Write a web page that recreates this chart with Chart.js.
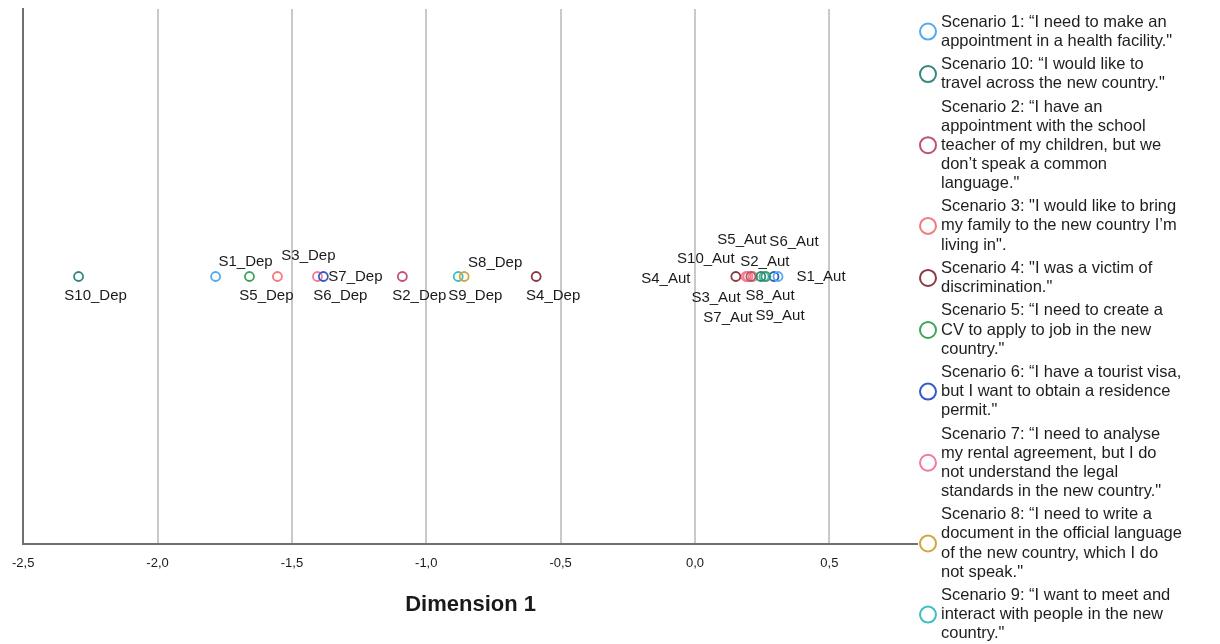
<!DOCTYPE html>
<html>
<head>
<meta charset="utf-8">
<script src="https://cdn.jsdelivr.net/npm/chart.js@4.4.1/dist/chart.umd.min.js"></script>
<style>
  html, body { margin: 0; padding: 0; background: #fff; }
  #wrap { width: 1220px; height: 644px; position: relative; }
</style>
</head>
<body>
<div id="wrap"><canvas id="grafico"></canvas></div>
<script>
// escenarios en el orden de la leyenda
const escenarios = ['S1', 'S10', 'S2', 'S3', 'S4', 'S5', 'S6', 'S7', 'S8', 'S9'];
const valoresDep = [-1.784, -2.294, -1.089, -1.554, -0.591, -1.658, -1.383, -1.405, -0.859, -0.881];
const valoresAut = [0.309, 0.245, 0.208, 0.190, 0.152, 0.264, 0.294, 0.197, 0.216, 0.257];
const colores = ['#52aaf0', '#35867e', '#c04f7c', '#f4787c', '#8a3a44', '#3ea45a', '#3558c4', '#f07aa0', '#d2a63c', '#3cc0c0'];
const ticksX = [-2.5, -2.0, -1.5, -1.0, -0.5, 0.0, 0.5];
const textosLeyenda = [
  'Scenario 1: \u201cI need to make an\nappointment in a health facility."',
  'Scenario 10: \u201cI would like to\ntravel across the new country."',
  'Scenario 2: \u201cI have an\nappointment with the school\nteacher of my children, but we\ndon\u2019t speak a common\nlanguage."',
  'Scenario 3: "I would like to bring\nmy family to the new country I\u2019m\nliving in".',
  'Scenario 4: "I was a victim of\ndiscrimination."',
  'Scenario 5: \u201cI need to create a\nCV to apply to job in the new\ncountry."',
  'Scenario 6: \u201cI have a tourist visa,\nbut I want to obtain a residence\npermit."',
  'Scenario 7: \u201cI need to analyse\nmy rental agreement, but I do\nnot understand the legal\nstandards in the new country."',
  'Scenario 8: \u201cI need to write a\ndocument in the official language\nof the new country, which I do\nnot speak."',
  'Scenario 9: \u201cI want to meet and\ninteract with people in the new\ncountry."'
];

// desplazamiento de cada etiqueta respecto a su punto (por defecto abajo a la derecha)
const desplazamientos = {
  S1_Dep: [30, -15], S3_Dep: [31, -21], S7_Dep: [38, 0], S8_Dep: [31, -14],
  S4_Aut: [-70, 2], S3_Aut: [-30, 21], S7_Aut: [-20, 41], S2_Aut: [14, -15],
  S10_Aut: [-55, -18], S9_Aut: [16, 39], S5_Aut: [-24, -37], S6_Aut: [20, -35],
  S1_Aut: [43, 0]
};

const fuente = '"Liberation Sans", Arial, sans-serif';

const datasets = escenarios.map((s, i) => ({
  label: s,
  data: [{ x: valoresDep[i], y: 0 }, { x: valoresAut[i], y: 0 }],
  borderColor: colores[i],
  backgroundColor: 'rgba(0,0,0,0)',
  pointRadius: 4.5,
  pointBorderWidth: 1.8,
  showLine: false
}));

const etiquetasPuntos = {
  id: 'etiquetasPuntos',
  afterDatasetsDraw(chart) {
    const ctx = chart.ctx;
    ctx.save();
    ctx.font = '15px ' + fuente;
    ctx.fillStyle = '#1a1a1a';
    ctx.textAlign = 'center';
    ctx.textBaseline = 'middle';
    chart.data.datasets.forEach((ds, i) => {
      const meta = chart.getDatasetMeta(i);
      meta.data.forEach((p, j) => {
        const nombre = escenarios[i] + (j === 0 ? '_Dep' : '_Aut');
        const d = desplazamientos[nombre] || [17, 19];
        ctx.fillText(nombre, p.x + d[0], p.y + d[1]);
      });
    });
    ctx.restore();
  }
};

const leyenda = {
  id: 'leyendaEscenarios',
  afterDraw(chart) {
    const ctx = chart.ctx;
    const x0 = chart.chartArea.right;
    ctx.save();
    ctx.fillStyle = '#fff';
    ctx.fillRect(x0, 0, chart.width - x0, chart.height);
    ctx.font = '16.5px ' + fuente;
    ctx.textAlign = 'left';
    ctx.textBaseline = 'middle';
    const alto = 19.1, hueco = 23.4;
    let y = 22;
    textosLeyenda.forEach((t, i) => {
      const lineas = t.split('\n');
      const yCentro = y + (lineas.length - 1) * alto / 2;
      ctx.beginPath();
      ctx.arc(928, yCentro, 8, 0, Math.PI * 2);
      ctx.strokeStyle = colores[i];
      ctx.lineWidth = 2;
      ctx.stroke();
      ctx.fillStyle = '#1e1e1e';
      lineas.forEach((l, k) => ctx.fillText(l, 941, y + k * alto));
      y += (lineas.length - 1) * alto + hueco;
    });
    ctx.restore();
  }
};

new Chart(document.getElementById('grafico'), {
  type: 'scatter',
  data: { datasets },
  options: {
    responsive: true,
    maintainAspectRatio: false,
    animation: false,
    layout: { padding: { top: 9, left: 22, right: 302, bottom: 0 } },
    scales: {
      x: {
        min: -2.5,
        max: 0.83,
        afterBuildTicks: (scale) => { scale.ticks = ticksX.map(v => ({ value: v })); },
        afterFit: (scale) => { scale.height = 100; },
        grid: { color: '#c9c9c9', lineWidth: 2, drawTicks: false },
        border: { color: '#707070', width: 2 },
        ticks: {
          padding: 12,
          color: '#1a1a1a',
          font: { family: '"Liberation Sans Narrow", ' + fuente, size: 13 },
          callback: (v) => v.toFixed(1).replace('.', ',')
        },
        title: {
          display: true,
          text: 'Dimension 1',
          color: '#1a1a1a',
          font: { family: fuente, size: 22, weight: 'bold' },
          padding: { top: 0, bottom: 26 }
        }
      },
      y: {
        min: -1,
        max: 1,
        grid: { display: false, drawTicks: false },
        border: { display: true, color: '#707070', width: 2 },
        ticks: { display: false }
      }
    },
    plugins: {
      legend: { display: false },
      tooltip: { enabled: false }
    }
  },
  plugins: [etiquetasPuntos, leyenda]
});
</script>
</body>
</html>
